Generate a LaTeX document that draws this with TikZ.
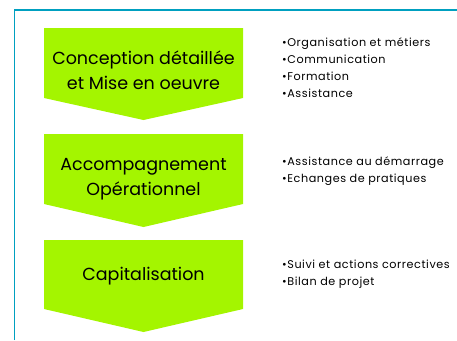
\documentclass[tikz,border=0pt]{standalone}
\usepackage{fontspec}
\setmainfont{Poppins}
\newfontfamily\listefont[LetterSpace=5]{Poppins}
\definecolor{vert}{RGB}{164,245,0}
\definecolor{cadre}{RGB}{0,160,192}

\begin{document}
\begin{tikzpicture}[x=1pt, y=-1pt,
  etape/.style={fill=vert},
  titre/.style={align=center, font=\fontsize{17.5}{25}\selectfont},
  liste/.style={align=left, anchor=west, inner sep=0pt, font=\listefont\fontsize{11.2}{17}\selectfont}]
  \useasboundingbox (0,0) rectangle (457,340);
  % cadre
  \draw[cadre, line width=1.1pt] (14.5,340) -- (14.5,10) -- (457,10);
  % les trois etapes
  \fill[etape] (44,28) -- (243,28) -- (243,98) -- (143.5,120) -- (44,98) -- cycle;
  \fill[etape] (44,134) -- (243,134) -- (243,204) -- (143.5,227) -- (44,204) -- cycle;
  \fill[etape] (44,240) -- (243,240) -- (243,309) -- (143.5,332) -- (44,309) -- cycle;
  \node (conception) at (143.5,70.5) [titre] {Conception détaillée\\et Mise en oeuvre};
  \node (accompagnement) at (143.5,179) [titre] {Accompagnement\\Opérationnel};
  \node (capitalisation) at (143.5,276) [titre] {Capitalisation};
  % actions
  \node (actionsA) at (282,68) [liste] {•Organisation et métiers\\•Communication\\•Formation\\•Assistance};
  \node (actionsB) at (282,171.5) [liste] {•Assistance au démarrage\\•Echanges de pratiques};
  \node (actionsC) at (282,274) [liste] {•Suivi et actions correctives\\•Bilan de projet};
\end{tikzpicture}
\end{document}
